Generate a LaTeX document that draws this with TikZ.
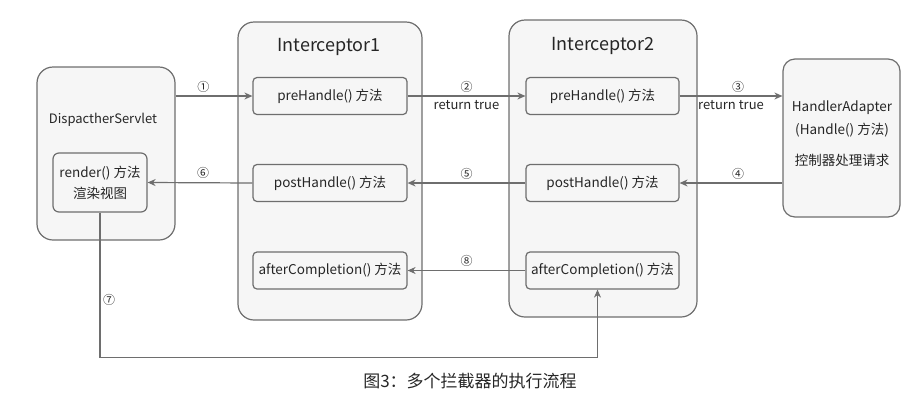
\documentclass[tikz,border=0pt]{standalone}
\usepackage{fontspec}
\setmainfont{Noto Sans CJK SC}
\usetikzlibrary{arrows.meta}
\definecolor{linegray}{HTML}{6E6E6E}
\definecolor{boxfill}{HTML}{F6F6F6}
\definecolor{txtgray}{HTML}{262626}
\tikzset{
  outerbox/.style={draw=linegray, fill=boxfill, rounded corners=16pt, line width=1.2pt, inner sep=0pt},
  methodbox/.style={draw=linegray, fill=boxfill, rounded corners=4pt, line width=1.2pt,
    minimum width=154pt, minimum height=37pt, inner sep=0pt, text=txtgray, font=\fontsize{13.5}{16}\selectfont},
  flow/.style={draw=linegray, line width=1.2pt, -{Stealth[length=8pt,width=7pt]}},
  steplabel/.style={text=txtgray, font=\fontsize{12}{14}\selectfont},
  plain/.style={text=txtgray, font=\fontsize{13.5}{16}\selectfont},
}
\begin{document}
\begin{tikzpicture}[x=1pt,y=-1pt]
\useasboundingbox (0,0) rectangle (919,405);
% outer boxes
    \node[outerbox, minimum width=138pt, minimum height=173pt] (disp) at (106,153.5) {};
    \node[outerbox, minimum width=184pt, minimum height=298pt] (inter1) at (330,171) {};
    \node[outerbox, minimum width=188pt, minimum height=297pt] (inter2) at (603,168.5) {};
    \node[outerbox, rounded corners=12pt, minimum width=117pt, minimum height=158pt] (handler) at (841.5,138) {};
% titles and texts
    \node[text=txtgray, font=\fontsize{18}{20}\selectfont] (title1) at (329,47) {Interceptor1};
    \node[text=txtgray, font=\fontsize{18}{20}\selectfont] (title2) at (603,46) {Interceptor2};
    \node[plain, font=\fontsize{13}{15}\selectfont] (dispname) at (103,120) {DispactherServlet};
    \node[plain] (hname) at (842,108) {HandlerAdapter};
    \node[plain] (hcall) at (842,130) {(Handle() 方法)};
    \node[plain] (hdesc) at (842,160) {控制器处理请求};
% method boxes
    \node[methodbox, rounded corners=6pt, minimum width=94pt, minimum height=59pt, align=center] (render) at (100,182.5)
        {render() 方法\\[5pt]渲染视图};
    \node[methodbox] (pre1) at (330,96) {preHandle() 方法};
    \node[methodbox] (post1) at (330,183) {postHandle() 方法};
    \node[methodbox] (after1) at (330,270.5) {afterCompletion() 方法};
    \node[methodbox, minimum width=153pt] (pre2) at (602.5,96) {preHandle() 方法};
    \node[methodbox, minimum width=153pt] (post2) at (602.5,183) {postHandle() 方法};
    \node[methodbox, minimum width=153pt] (after2) at (602.5,270.5) {afterCompletion() 方法};
% connectors
    \draw[flow] (disp.east |- pre1.west) -- node[steplabel, above, pos=0.36] {①} (pre1.west);
    \draw[flow] (pre1.east) -- node[steplabel, above] {②} node[plain, font=\fontsize{13}{15}\selectfont, below=1pt] {return true} (pre2.west);
    \draw[flow] (pre2.east) -- node[steplabel, above, pos=0.57] {③} node[plain, font=\fontsize{13}{15}\selectfont, below=1pt] {return true} (handler.west |- pre2.east);
    \draw[flow] (handler.west |- post2.east) -- node[steplabel, above, pos=0.43] {④} (post2.east);
    \draw[flow] (post2.west) -- node[steplabel, above] {⑤} (post1.east);
    \draw[flow] (post1.west) -- node[steplabel, above, pos=0.47] {⑥} (render.east);
    \draw[flow] (render.south) -- ++(0,145) -| ([xshift=-5pt]after2.south);
    \draw[flow] (after2.west) -- node[steplabel, above] {⑧} (after1.east);
    \node[steplabel] (seven) at (109,300) {⑦};
% caption
    \node[text=txtgray, font=\fontsize{17}{19}\selectfont] (caption) at (470,381) {图3：多个拦截器的执行流程};
\end{tikzpicture}
\end{document}
